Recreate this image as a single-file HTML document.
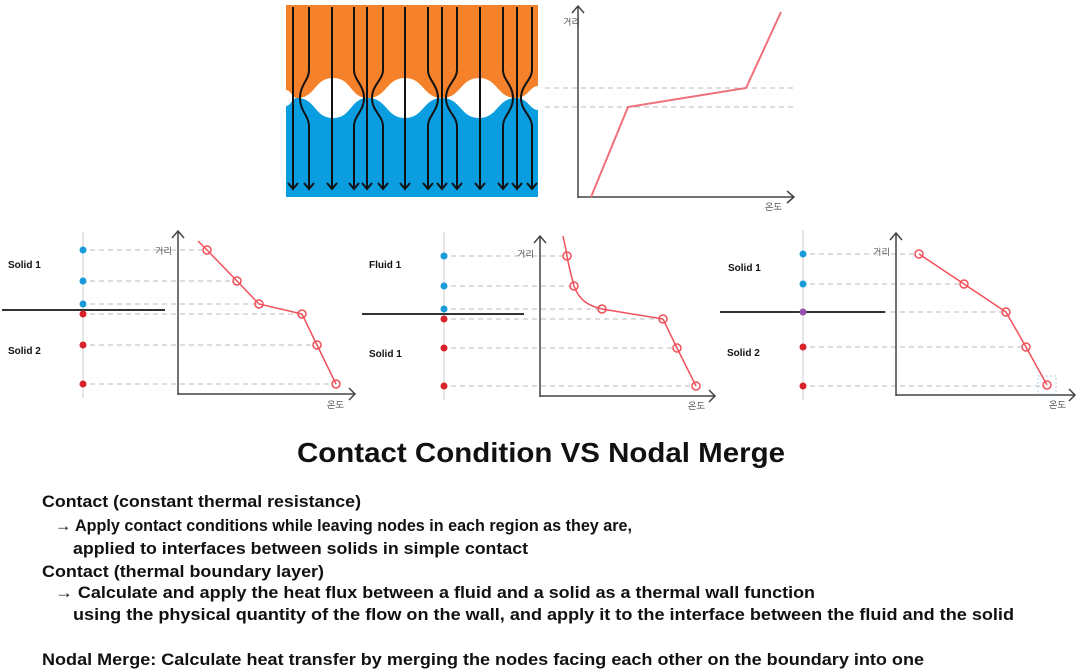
<!DOCTYPE html>
<html><head><meta charset="utf-8"><style>
html,body{margin:0;padding:0;background:#fff;}
svg{display:block;}
.ko{font-family:"Liberation Sans","NanumGothic","Noto Sans CJK KR",sans-serif;}
.t{font-family:"Liberation Sans",sans-serif;font-weight:bold;fill:#111;}
</style></head><body>
<svg width="1080" height="672" viewBox="0 0 1080 672" xmlns="http://www.w3.org/2000/svg">
<!-- top block -->
<rect x="286" y="5" width="252" height="93" fill="#f5822a"/>
<rect x="286" y="98" width="252" height="99" fill="#0a9ee0"/>
<g fill="#fff">
<path d="M297,98 C316,98 314,78 333,78 C352,78 350,98 368,98 C350,98 352,118 333,118 C314,118 316,98 297,98Z"/>
<path d="M368,98 C387,98 386,78 405,78 C424,78 423,98 442,98 C423,98 424,118 405,118 C386,118 387,98 368,98Z"/>
<path d="M442,98 C461,98 460,78 479,78 C498,78 497,98 516,98 C497,98 498,118 479,118 C460,118 461,98 442,98Z"/>
<path d="M516,98 C528,98 530,86 538,86 L538,110 C530,110 528,98 516,98Z"/>
<path d="M286,90 C291,90 292,98 297,98 C292,98 291,106 286,106Z"/>
</g>
<g stroke="#111" stroke-width="2" fill="none">
<path d="M293,7 V188"/>
<path d="M309,7 V70 C309,80 300,85 300,98 C300,111 309,116 309,126 V188"/>
<path d="M332,7 V188"/>
<path d="M354,7 V70 C354,80 364,85 364,98 C364,111 354,116 354,126 V188"/>
<path d="M367,7 V188"/>
<path d="M383,7 V70 C383,80 372,85 372,98 C372,111 383,116 383,126 V188"/>
<path d="M405,7 V188"/>
<path d="M428,7 V70 C428,80 438,85 438,98 C438,111 428,116 428,126 V188"/>
<path d="M442,7 V188"/>
<path d="M457,7 V70 C457,80 446,85 446,98 C446,111 457,116 457,126 V188"/>
<path d="M480,7 V188"/>
<path d="M503,7 V70 C503,80 513,85 513,98 C513,111 503,116 503,126 V188"/>
<path d="M517,7 V188"/>
<path d="M532,7 V70 C532,80 521,85 521,98 C521,111 532,116 532,126 V188"/>
<path d="M288,183 l5,6 l5,-6 M304,183 l5,6 l5,-6 M327,183 l5,6 l5,-6 M349,183 l5,6 l5,-6 M362,183 l5,6 l5,-6 M378,183 l5,6 l5,-6 M400,183 l5,6 l5,-6 M423,183 l5,6 l5,-6 M437,183 l5,6 l5,-6 M452,183 l5,6 l5,-6 M475,183 l5,6 l5,-6 M498,183 l5,6 l5,-6 M512,183 l5,6 l5,-6 M527,183 l5,6 l5,-6"/>
</g>
<!-- top graph -->
<g stroke="#444" stroke-width="1.5" fill="none">
<path d="M578,198 V6 M572,13 l6,-7 l6,7"/>
<path d="M578,197 H794 M787,191 l7,6 l-7,6"/>
</g>
<g stroke="#bbb" stroke-width="1" stroke-dasharray="5,4">
<path d="M545,88 H795 M545,107 H795"/>
</g>
<path d="M591,197 L628,107 L746,88 L781,12" stroke="#f0707a" stroke-width="2" fill="none"/>
<text x="563" y="25" font-size="9" class="ko" fill="#333">거리</text>
<text x="765" y="210" font-size="9" class="ko" fill="#333">온도</text>

<!-- Panel 1 -->
<g>
<path d="M83,232 V398" stroke="#ccc" stroke-width="1"/>
<g stroke="#bbb" stroke-dasharray="5,4" stroke-width="1">
<path d="M90,250 H205 M90,281 H235 M90,304 H257 M90,314 H300 M90,345 H315 M90,384 H334"/>
</g>
<path d="M2,310 H165" stroke="#333" stroke-width="2"/>
<g fill="#1a9ad8"><circle cx="83" cy="250" r="3.5"/><circle cx="83" cy="281" r="3.5"/><circle cx="83" cy="304" r="3.5"/></g>
<g fill="#d8232a"><circle cx="83" cy="314" r="3.5"/><circle cx="83" cy="345" r="3.5"/><circle cx="83" cy="384" r="3.5"/></g>
<g stroke="#444" stroke-width="1.5" fill="none">
<path d="M178,395 V231 M172,238 l6,-7 l6,7"/>
<path d="M178,394 H355 M349,388 l6,6 l-6,6"/>
</g>
<g stroke="#f0505a" stroke-width="1.5" fill="none">
<path d="M198,241 L207,250 L237,281 L259,304 L302,314 L317,345 L336,384"/>
<circle cx="207" cy="250" r="4"/><circle cx="237" cy="281" r="4"/><circle cx="259" cy="304" r="4"/><circle cx="302" cy="314" r="4"/><circle cx="317" cy="345" r="4"/><circle cx="336" cy="384" r="4"/>
</g>
<text x="8" y="268" class="t" font-size="10">Solid 1</text>
<text x="8" y="354" class="t" font-size="10">Solid 2</text>
<text x="155" y="254" font-size="9" class="ko" fill="#333">거리</text>
<text x="327" y="408" font-size="9" class="ko" fill="#333">온도</text>
</g>

<!-- Panel 2 -->
<g>
<path d="M444,232 V400" stroke="#ccc" stroke-width="1"/>
<g stroke="#bbb" stroke-dasharray="5,4" stroke-width="1">
<path d="M451,256 H565 M451,286 H572 M451,309 H600 M451,319 H661 M451,348 H675 M451,386 H694"/>
</g>
<path d="M362,314 H524" stroke="#333" stroke-width="2"/>
<g fill="#1a9ad8"><circle cx="444" cy="256" r="3.5"/><circle cx="444" cy="286" r="3.5"/><circle cx="444" cy="309" r="3.5"/></g>
<g fill="#d8232a"><circle cx="444" cy="319" r="3.5"/><circle cx="444" cy="348" r="3.5"/><circle cx="444" cy="386" r="3.5"/></g>
<g stroke="#444" stroke-width="1.5" fill="none">
<path d="M540,397 V236 M534,243 l6,-7 l6,7"/>
<path d="M540,396 H715 M709,390 l6,6 l-6,6"/>
</g>
<g stroke="#f0505a" stroke-width="1.5" fill="none">
<path d="M563,236 C565,245 566,250 567,256 C569,268 572,278 574,286 C580,302 590,306 602,309 L663,319 L677,348 L696,386"/>
<circle cx="567" cy="256" r="4"/><circle cx="574" cy="286" r="4"/><circle cx="602" cy="309" r="4"/><circle cx="663" cy="319" r="4"/><circle cx="677" cy="348" r="4"/><circle cx="696" cy="386" r="4"/>
</g>
<text x="369" y="268" class="t" font-size="10">Fluid 1</text>
<text x="369" y="357" class="t" font-size="10">Solid 1</text>
<text x="517" y="257" font-size="9" class="ko" fill="#333">거리</text>
<text x="688" y="409" font-size="9" class="ko" fill="#333">온도</text>
</g>

<!-- Panel 3 -->
<g>
<path d="M803,230 V400" stroke="#ccc" stroke-width="1"/>
<g stroke="#bbb" stroke-dasharray="5,4" stroke-width="1">
<path d="M810,254 H917 M810,284 H962 M810,312 H1004 M810,347 H1024 M810,386 H1045"/>
</g>
<path d="M720,312 H885" stroke="#333" stroke-width="2"/>
<g fill="#1a9ad8"><circle cx="803" cy="254" r="3.5"/><circle cx="803" cy="284" r="3.5"/></g>
<circle cx="803" cy="312" r="3.5" fill="#9b4fb0"/>
<g fill="#d8232a"><circle cx="803" cy="347" r="3.5"/><circle cx="803" cy="386" r="3.5"/></g>
<g stroke="#444" stroke-width="1.5" fill="none">
<path d="M896,396 V233 M890,240 l6,-7 l6,7"/>
<path d="M896,395 H1075 M1069,389 l6,6 l-6,6"/>
</g>
<rect x="1038" y="376" width="18" height="18" fill="none" stroke="#9cc4e4" stroke-width="0.7" stroke-dasharray="2,2"/>
<g stroke="#f0505a" stroke-width="1.5" fill="none">
<path d="M919,254 L964,284 L1006,312 L1026,347 L1047,385"/>
<circle cx="919" cy="254" r="4"/><circle cx="964" cy="284" r="4"/><circle cx="1006" cy="312" r="4"/><circle cx="1026" cy="347" r="4"/><circle cx="1047" cy="385" r="4"/>
</g>
<text x="728" y="271" class="t" font-size="10">Solid 1</text>
<text x="727" y="356" class="t" font-size="10">Solid 2</text>
<text x="873" y="255" font-size="9" class="ko" fill="#333">거리</text>
<text x="1049" y="408" font-size="9" class="ko" fill="#333">온도</text>
</g>

<!-- Title -->
<text x="297" y="462" class="t" font-size="28" textLength="488" lengthAdjust="spacingAndGlyphs" fill="#000">Contact Condition VS Nodal Merge</text>

<!-- Body -->
<g class="t" font-size="17">
<text x="42" y="507" textLength="319" lengthAdjust="spacingAndGlyphs">Contact (constant thermal resistance)</text>
<text x="55" y="531" textLength="577" lengthAdjust="spacingAndGlyphs">→ Apply contact conditions while leaving nodes in each region as they are,</text>
<text x="73" y="554" textLength="455" lengthAdjust="spacingAndGlyphs">applied to interfaces between solids in simple contact</text>
<text x="42" y="577" textLength="282" lengthAdjust="spacingAndGlyphs">Contact (thermal boundary layer)</text>
<text x="55" y="598" textLength="760" lengthAdjust="spacingAndGlyphs">→ Calculate and apply the heat flux between a fluid and a solid as a thermal wall function</text>
<text x="73" y="620" textLength="941" lengthAdjust="spacingAndGlyphs">using the physical quantity of the flow on the wall, and apply it to the interface between the fluid and the solid</text>
<text x="42" y="665" textLength="882" lengthAdjust="spacingAndGlyphs">Nodal Merge: Calculate heat transfer by merging the nodes facing each other on the boundary into one</text>
</g>
</svg>
</body></html>
